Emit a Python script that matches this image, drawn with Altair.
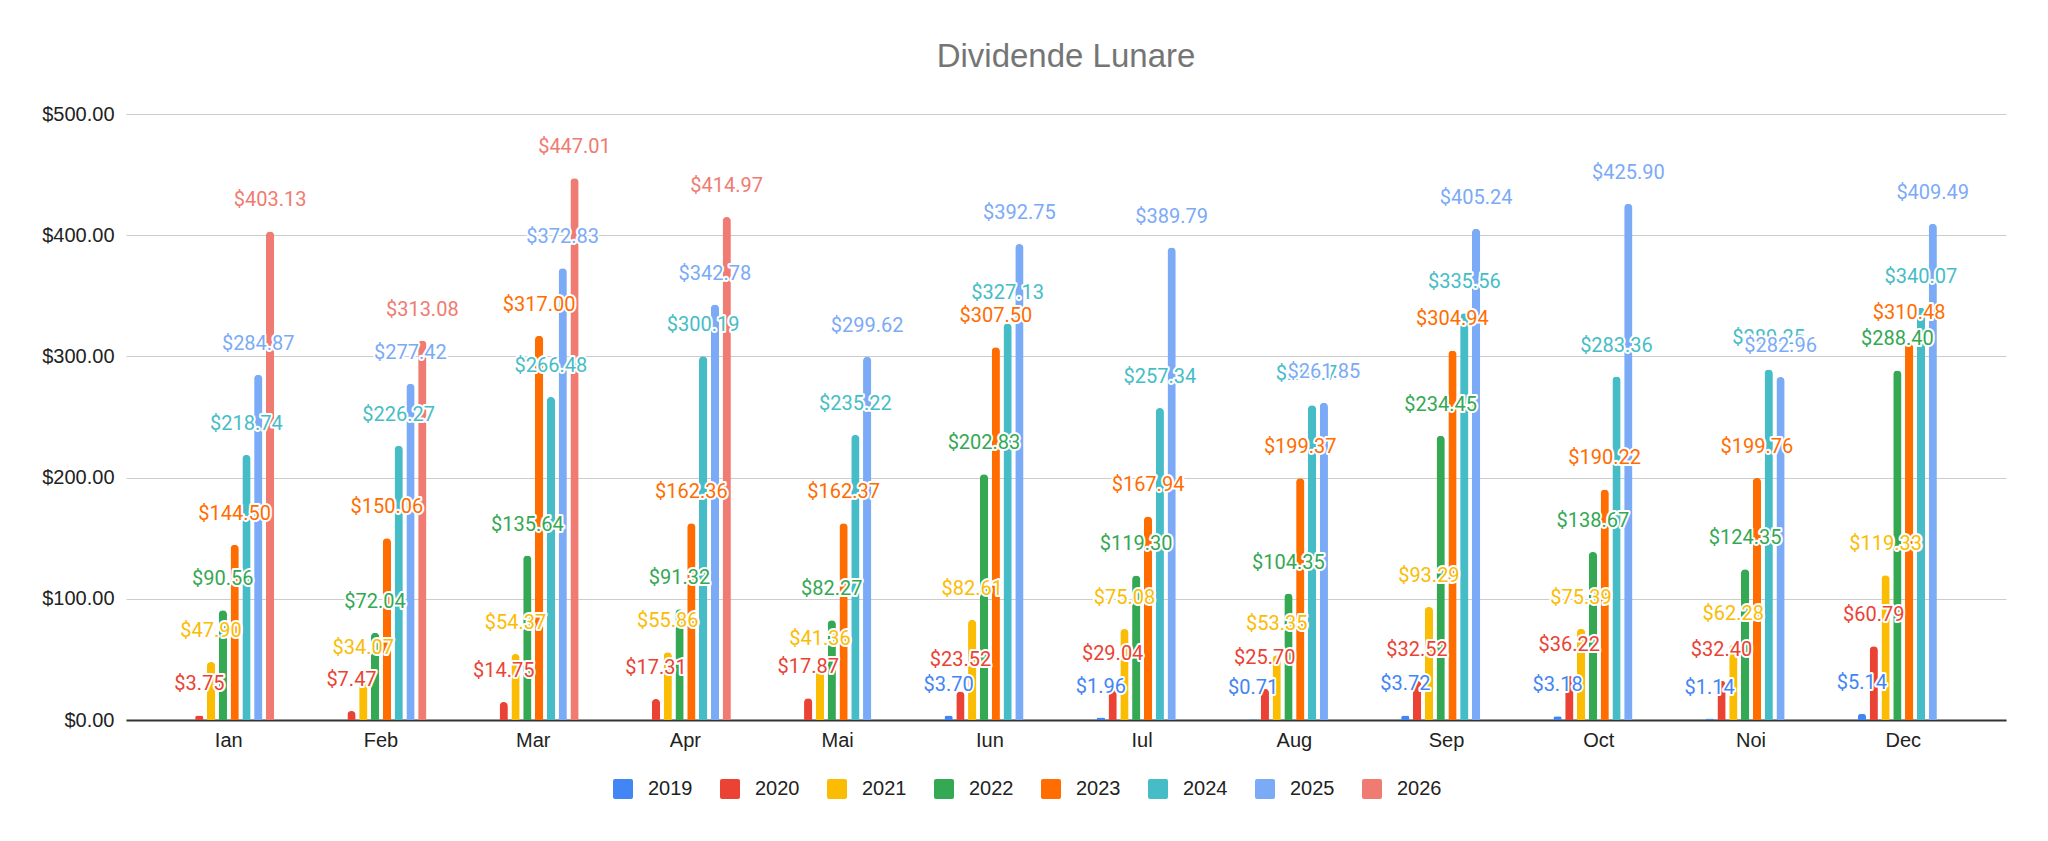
import altair as alt
import pandas as pd

months = ["Ian", "Feb", "Mar", "Apr", "Mai", "Iun", "Iul", "Aug", "Sep", "Oct", "Noi", "Dec"]
years = ["2019", "2020", "2021", "2022", "2023", "2024", "2025", "2026"]
colors = ["#4285F4", "#EA4335", "#FBBC04", "#34A853", "#FF6D01", "#46BDC6", "#7BAAF7", "#F07B72"]

v2019 = [None, None, None, None, None, 3.70, 1.96, 0.71, 3.72, 3.18, 1.14, 5.14]
v2020 = [3.75, 7.47, 14.75, 17.31, 17.87, 23.52, 29.04, 25.70, 32.52, 36.22, 32.40, 60.79]
v2021 = [47.90, 34.07, 54.37, 55.86, 41.36, 82.61, 75.08, 53.35, 93.29, 75.39, 62.28, 119.33]
v2022 = [90.56, 72.04, 135.64, 91.32, 82.27, 202.83, 119.30, 104.35, 234.45, 138.67, 124.35, 288.40]
v2023 = [144.50, 150.06, 317.00, 162.36, 162.37, 307.50, 167.94, 199.37, 304.94, 190.22, 199.76, 310.48]
v2024 = [218.74, 226.27, 266.48, 300.19, 235.22, 327.13, 257.34, 259.75, 335.56, 283.36, 289.25, 340.07]
v2025 = [284.87, 277.42, 372.83, 342.78, 299.62, 392.75, 389.79, 261.85, 405.24, 425.90, 282.96, 409.49]
v2026 = [403.13, 313.08, 447.01, 414.97, None, None, None, None, None, None, None, None]

series = [v2019, v2020, v2021, v2022, v2023, v2024, v2025, v2026]

rows = []
for yr, vals in zip(years, series):
    for m, v in zip(months, vals):
        if v is not None:
            rows.append({"month": m, "year": yr, "value": v})
df = pd.DataFrame(rows)

AX_FONT = "Liberation Sans"
LBL_FONT = "Roboto"

x_enc = alt.X(
    "month:N", sort=months,
    scale=alt.Scale(paddingInner=0.38, paddingOuter=0.365),
    axis=alt.Axis(title=None, labelFontSize=20, labelFont=AX_FONT, labelColor="#222222",
                  ticks=False, domainColor="#333333", domainWidth=2, labelPadding=10,
                  labelAngle=0, grid=False),
)
xo_enc = alt.XOffset("year:N", sort=years, scale=alt.Scale(domain=years, paddingInner=0.3, paddingOuter=0.15))
y_enc = alt.Y(
    "value:Q",
    scale=alt.Scale(domain=[0, 500], nice=False),
    axis=alt.Axis(title=None, values=[0, 100, 200, 300, 400, 500], format="$,.2f",
                  labelFontSize=20, labelFont=AX_FONT, labelColor="#222222", labelPadding=12,
                  ticks=False, domain=False, gridColor="#cccccc", gridWidth=1),
)

rounded_square = "M -0.8,-1 L 0.8,-1 Q 1,-1 1,-0.8 L 1,0.8 Q 1,1 0.8,1 L -0.8,1 Q -1,1 -1,0.8 L -1,-0.8 Q -1,-1 -0.8,-1 Z"

bars = alt.Chart(df).mark_bar(cornerRadiusEnd=4).encode(
    x=x_enc,
    xOffset=xo_enc,
    y=y_enc,
    color=alt.Color(
        "year:N",
        scale=alt.Scale(domain=years, range=colors),
        legend=alt.Legend(
            title=None, orient="none", legendX=487, legendY=665, direction="horizontal",
            columns=8, symbolType=rounded_square, symbolSize=400, symbolStrokeWidth=0,
            symbolOpacity=1, labelFontSize=20, labelFont=AX_FONT, labelColor="#222222",
            labelOffset=15, columnPadding=27, padding=0,
        ),
    ),
)

layers = [bars]
for yr, c in zip(years, colors):
    base = alt.Chart(df).transform_filter(alt.datum.year == yr).encode(
        x=x_enc, xOffset=xo_enc, y=y_enc,
        text=alt.Text("value:Q", format="$,.2f"),
    )
    halo = base.mark_text(font=LBL_FONT, fontSize=20, dy=-25, baseline="alphabetic", align="center",
                          fill="white", stroke="white", strokeWidth=4, strokeJoin="round")
    txt = base.mark_text(font=LBL_FONT, fontSize=20, dy=-25, baseline="alphabetic", align="center",
                         fill=c)
    layers += [halo, txt]

chart = alt.layer(*layers).properties(
    width=1880,
    height=606,
    padding={"left": 118, "top": 106, "right": 34, "bottom": 113},
    autosize=alt.AutoSizeParams(type="none"),
    title=alt.Title("Dividende Lunare", fontSize=33, font=AX_FONT, color="#757575",
                    fontWeight="normal", anchor="middle", baseline="alphabetic", offset=4),
    background="white",
).configure_view(stroke="transparent")

chart.save("out.html", embed_options={"renderer": "svg", "actions": False})
